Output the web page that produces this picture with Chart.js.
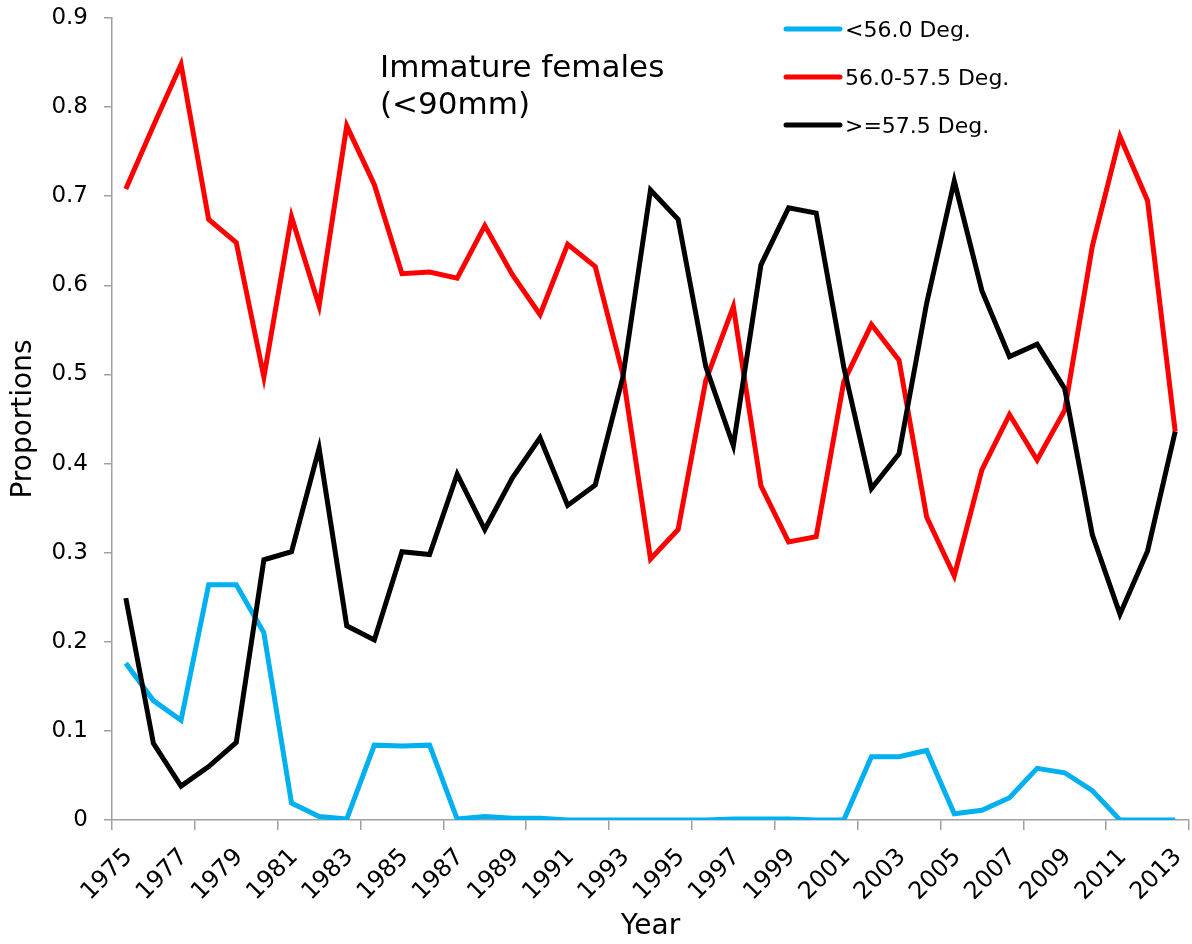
<!DOCTYPE html>
<html>
<head>
<meta charset="utf-8">
<title>Immature females (&lt;90mm)</title>
<script src="https://cdn.jsdelivr.net/npm/chart.js@4.4.1/dist/chart.umd.min.js"></script>
<style>
  html, body { margin: 0; padding: 0; background: #ffffff; }
  canvas { display: block; }
</style>
</head>
<body>
<canvas id="chart" width="1192" height="944"></canvas>
<script>
// Survey years (one category per year)
const years = [
  '1975','1976','1977','1978','1979','1980','1981','1982','1983','1984',
  '1985','1986','1987','1988','1989','1990','1991','1992','1993','1994',
  '1995','1996','1997','1998','1999','2000','2001','2002','2003','2004',
  '2005','2006','2007','2008','2009','2010','2011','2012','2013'
];

// Proportion of immature females by latitude band
const below56 = [
  0.176, 0.134, 0.112, 0.264, 0.264, 0.210, 0.019, 0.004, 0.001, 0.084,
  0.083, 0.084, 0.001, 0.004, 0.002, 0.002, 0.000, 0.000, 0.000, 0.000,
  0.000, 0.000, 0.001, 0.001, 0.001, 0.000, 0.000, 0.071, 0.071, 0.078,
  0.007, 0.011, 0.025, 0.058, 0.053, 0.033, 0.000, 0.000, 0.000
];
const from56to575 = [
  0.708, 0.779, 0.848, 0.674, 0.648, 0.497, 0.677, 0.577, 0.779, 0.713,
  0.613, 0.615, 0.608, 0.667, 0.612, 0.567, 0.646, 0.621, 0.500, 0.293,
  0.326, 0.493, 0.576, 0.375, 0.312, 0.318, 0.492, 0.556, 0.516, 0.340,
  0.274, 0.393, 0.455, 0.404, 0.460, 0.644, 0.767, 0.695, 0.436
];
const atLeast575 = [
  0.249, 0.086, 0.038, 0.060, 0.087, 0.292, 0.301, 0.417, 0.218, 0.202,
  0.301, 0.298, 0.388, 0.326, 0.384, 0.429, 0.353, 0.376, 0.497, 0.707,
  0.674, 0.509, 0.420, 0.623, 0.687, 0.681, 0.508, 0.372, 0.411, 0.580,
  0.717, 0.594, 0.520, 0.534, 0.484, 0.320, 0.231, 0.302, 0.436
];

const yTickLabels = ['0', '0.1', '0.2', '0.3', '0.4', '0.5', '0.6', '0.7', '0.8', '0.9'];
const seriesNames = ['<56.0 Deg.', '56.0-57.5 Deg.', '>=57.5 Deg.'];
const noteLines = ['Immature females', '(<90mm)'];

const FONT = "'DejaVu Sans', 'Liberation Sans', Arial, sans-serif";
const AXIS_GREY = '#a0a0a0';
Chart.defaults.font.family = FONT;
Chart.defaults.color = '#000000';

// Legend drawn inside the plot, top right
const insideLegend = {
  id: 'insideLegend',
  afterDraw(chart, args, opts) {
    const ctx = chart.ctx;
    ctx.save();
    ctx.font = opts.fontSize + 'px ' + FONT;
    ctx.textAlign = 'left';
    ctx.textBaseline = 'alphabetic';
    chart.data.datasets.forEach((ds, i) => {
      const y = opts.y + i * opts.spacing;
      ctx.strokeStyle = ds.borderColor;
      ctx.lineWidth = ds.borderWidth;
      ctx.lineCap = 'round';
      ctx.beginPath();
      ctx.moveTo(opts.x, y);
      ctx.lineTo(opts.x + opts.lineLength, y);
      ctx.stroke();
      ctx.fillStyle = '#000000';
      ctx.fillText(ds.label, opts.x + opts.lineLength + opts.gap, y + opts.textDrop);
    });
    ctx.restore();
  }
};

// Free text note in the upper plot area
const plotNote = {
  id: 'plotNote',
  afterDraw(chart, args, opts) {
    const ctx = chart.ctx;
    ctx.save();
    ctx.font = opts.fontSize + 'px ' + FONT;
    ctx.fillStyle = '#000000';
    ctx.textAlign = 'left';
    ctx.textBaseline = 'alphabetic';
    opts.lines.forEach((t, i) => ctx.fillText(t, opts.x, opts.y + i * opts.lineGap));
    ctx.restore();
  }
};

const lineStyle = { borderWidth: 5, pointRadius: 0, pointHoverRadius: 0, tension: 0, fill: false,
                    borderJoinStyle: 'miter', borderCapStyle: 'butt' };

new Chart(document.getElementById('chart'), {
  type: 'line',
  data: {
    labels: years,
    datasets: [
      Object.assign({ label: seriesNames[0], data: below56, borderColor: '#00b0f0', order: 3 }, lineStyle),
      Object.assign({ label: seriesNames[1], data: from56to575, borderColor: '#ff0000', order: 2 }, lineStyle),
      Object.assign({ label: seriesNames[2], data: atLeast575, borderColor: '#000000', order: 1 }, lineStyle)
    ]
  },
  options: {
    responsive: false,
    animation: false,
    devicePixelRatio: 1,
    layout: { padding: { top: 18, right: 3, bottom: 0, left: 0 } },
    plugins: {
      legend: { display: false },
      tooltip: { enabled: false },
      insideLegend: { x: 786, y: 29, spacing: 48, lineLength: 54, gap: 5, textDrop: 8, fontSize: 22 },
      plotNote: { x: 380, y: 77, lineGap: 37, fontSize: 31, lines: noteLines }
    },
    scales: {
      x: {
        type: 'category',
        offset: true,
        afterFit(scale) {
          scale.height = 124;
          scale.paddingLeft = 0;
          scale.paddingRight = 0;
        },
        grid: {
          offset: true,
          drawOnChartArea: false,
          tickLength: 10,
          lineWidth: 1.5,
          color: (c) => (c.index === undefined || c.index % 3 === 0) ? AXIS_GREY : 'rgba(0,0,0,0)',
          tickColor: (c) => (c.index === undefined || c.index % 3 === 0) ? AXIS_GREY : 'rgba(0,0,0,0)'
        },
        border: { display: true, color: AXIS_GREY, width: 1.5 },
        ticks: {
          autoSkip: false,
          maxRotation: 45,
          minRotation: 45,
          padding: 13,
          labelOffset: 3,
          font: { size: 24 },
          color: '#000000',
          callback(value, index) { return index % 2 === 0 ? years[index] : ''; }
        },
        title: { display: true, text: 'Year', font: { size: 28 }, color: '#000000', padding: { top: 0, bottom: 0 } }
      },
      y: {
        min: 0,
        max: 0.9,
        afterFit(scale) {
          scale.width = 112;
          scale.paddingTop = 0;
          scale.paddingBottom = 0;
        },
        afterBuildTicks(scale) {
          scale.ticks = yTickLabels.map((t, i) => ({ value: i / 10 }));
        },
        grid: { drawOnChartArea: false, tickLength: 8, lineWidth: 1.5, color: AXIS_GREY, tickColor: AXIS_GREY },
        border: { display: true, color: AXIS_GREY, width: 1.5 },
        ticks: {
          padding: 16,
          font: { size: 23 },
          color: '#000000',
          callback(value, index) { return yTickLabels[index]; }
        },
        title: { display: true, text: 'Proportions', font: { size: 28 }, color: '#000000', padding: { top: 7, bottom: 0 } }
      }
    }
  },
  plugins: [insideLegend, plotNote]
});
</script>
</body>
</html>
